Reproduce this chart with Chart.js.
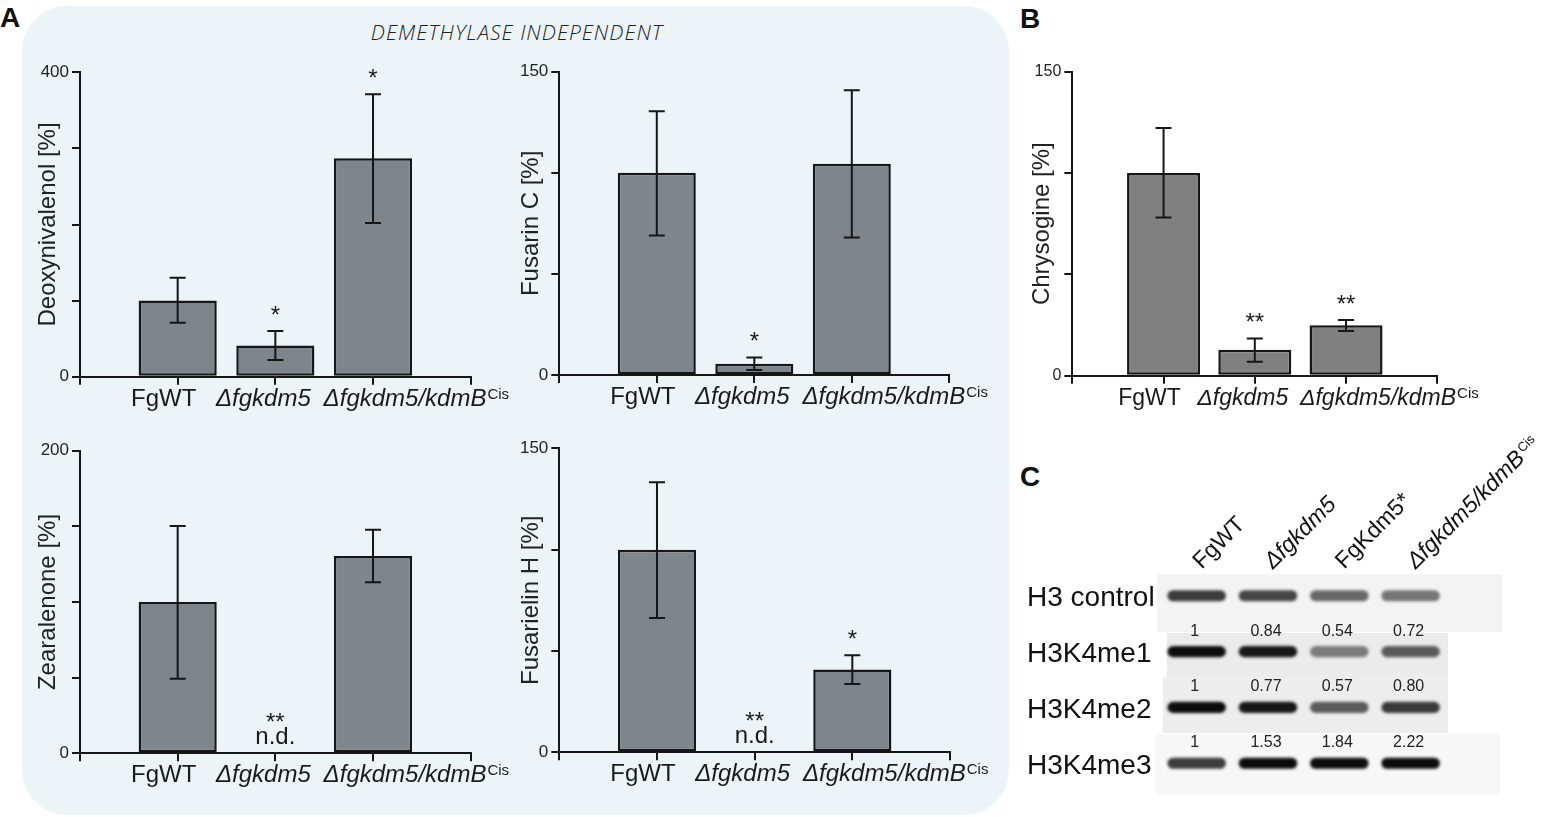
<!DOCTYPE html>
<html>
<head>
<meta charset="utf-8">
<script src="https://cdn.jsdelivr.net/npm/chart.js@4.4.1/dist/chart.umd.min.js"></script>
<style>
  body { margin: 0; background: #fff; }
  #page { position: relative; width: 1559px; height: 817px; overflow: hidden; font-family: "Liberation Sans", Arial, sans-serif; }
  #panelA { position: absolute; left: 22px; top: 6px; width: 987px; height: 809px; border-radius: 45px; background: #edf4f8; }
  .letter { position: absolute; font-weight: bold; font-size: 28px; line-height: 28px; color: #111; }
  #subtitle { position: absolute; left: 222px; width: 590px; top: 20px; text-align: center; font-family: "Open Sans", sans-serif; font-style: italic; font-weight: 300; font-size: 21px; letter-spacing: 1px; line-height: 24px; color: #222; }
  .strip { position: absolute; }
  canvas { position: absolute; }
</style>
</head>
<body>
<div id="page">
  <div id="panelA"></div>
  <div class="letter" style="left:0px;top:4px">A</div>
  <div class="letter" style="left:1020px;top:5px">B</div>
  <div class="letter" style="left:1020px;top:463px">C</div>
  <div id="subtitle">DEMETHYLASE INDEPENDENT</div>
  <div class="strip" style="left:1157px;top:574px;width:345px;height:58px;background:#f3f3f3"></div>
  <div class="strip" style="left:1167px;top:633px;width:281px;height:44px;background:#ebebeb"></div>
  <div class="strip" style="left:1163px;top:677px;width:285px;height:56px;background:#ededed"></div>
  <div class="strip" style="left:1155px;top:734px;width:345px;height:60px;background:#f7f7f7"></div>
  <canvas id="don"></canvas>
  <canvas id="fusc"></canvas>
  <canvas id="zea"></canvas>
  <canvas id="fush"></canvas>
  <canvas id="chrys"></canvas>
  <canvas id="blot"></canvas>
</div>
<script>
// strains on the x axis of every bar chart
const strains = ['FgWT', 'Δfgkdm5', 'Δfgkdm5/kdmB'];
const strainSup = ['', '', 'Cis'];

// mean, lower and upper error bar ends (% of wild type)
const donMean = [100, 41, 287];
const donLo = [71, 22, 202];
const donHi = [130, 60, 371];
const donSig = ['', '*', '*'];

const fuscMean = [100, 5.6, 104.5];
const fuscLo = [69, 2.5, 68];
const fuscHi = [130.4, 8.7, 140.8];
const fuscSig = ['', '*', ''];

const zeaMean = [100, 0, 130.4];
const zeaLo = [49.3, null, 113];
const zeaHi = [150.2, null, 147.8];
const zeaSig = ['', '**', ''];
const zeaNote = ['', 'n.d.', ''];

const fushMean = [100, 0, 40.9];
const fushLo = [66.3, null, 33.7];
const fushHi = [133.2, null, 47.9];
const fushSig = ['', '**', '*'];
const fushNote = ['', 'n.d.', ''];

const chrysMean = [100, 12.8, 24.9];
const chrysLo = [78.1, 6.9, 22];
const chrysHi = [122.2, 18.4, 27.5];
const chrysSig = ['', '**', '**'];

// western blot (panel C)
const lanes = ['FgWT', 'Δfgkdm5', 'FgKdm5*', 'Δfgkdm5/kdmB'];
const laneSup = ['', '', '', 'Cis'];
const marks = ['H3 control', 'H3K4me1', 'H3K4me2', 'H3K4me3'];
const bandH3 = [0.80, 0.75, 0.60, 0.55];
const bandMe1 = [1.00, 0.95, 0.50, 0.65];
const bandMe2 = [1.00, 0.95, 0.65, 0.80];
const bandMe3 = [0.80, 1.00, 1.00, 1.00];
const quantMe1 = [1, 0.84, 0.54, 0.72];
const quantMe2 = [1, 0.77, 0.57, 0.80];
const quantMe3 = [1, 1.53, 1.84, 2.22];

const FAM = '"Liberation Sans", Arial, sans-serif';
const INK = '#161616';

function place(cv, area, yw) {
  const L = Math.round(area.l - yw), T = Math.round(area.t - 40);
  const W = Math.round(area.r + 60) - L, H = Math.round(area.b + 50) - T;
  cv.width = W; cv.height = H;
  cv.style.left = L + 'px'; cv.style.top = T + 'px';
  return { yw: area.l - L, top: area.t - T, right: L + W - area.r, xh: T + H - area.b };
}

function barChart(id, area, s) {
  const cv = document.getElementById(id);
  const g = place(cv, area, s.yw);
  const annot = {
    id: 'annot',
    afterDraw(chart) {
      const { ctx, scales: { x, y } } = chart;
      ctx.save();
      ctx.strokeStyle = INK; ctx.fillStyle = '#1a1a1a';
      ctx.lineWidth = 2;
      s.mean.forEach((m, i) => {
        const px = x.getPixelForValue(i + 1);
        let top = y.getPixelForValue(m);
        if (s.lo[i] != null) {
          const yt = y.getPixelForValue(s.hi[i]), yb = y.getPixelForValue(s.lo[i]);
          ctx.beginPath();
          ctx.moveTo(px, yt); ctx.lineTo(px, yb);
          ctx.moveTo(px - 8, yt); ctx.lineTo(px + 8, yt);
          ctx.moveTo(px - 8, yb); ctx.lineTo(px + 8, yb);
          ctx.stroke();
          top = yt;
        }
        ctx.textAlign = 'center'; ctx.textBaseline = 'alphabetic';
        if (s.note && s.note[i]) {
          ctx.font = '24px ' + FAM;
          ctx.fillText(s.note[i], px, top - 9);
          ctx.fillText(s.sig[i], px, top - 23);
        } else if (s.sig[i]) {
          ctx.font = '24px ' + FAM;
          ctx.fillText(s.sig[i], px, top - 8);
        }
      });
      // category labels with italics and superscript
      const base = y.getPixelForValue(0) + 29;
      const shift = [-14, -12, 32];
      ctx.textAlign = 'left';
      strains.forEach((lab, i) => {
        ctx.font = (lab.startsWith('Δ') ? 'italic ' : '') + s.xf + 'px ' + FAM;
        const w = ctx.measureText(lab).width;
        const cx = x.getPixelForValue(i + 1) + shift[i];
        ctx.fillText(lab, cx - w / 2, base);
        if (strainSup[i]) {
          ctx.font = '15px ' + FAM;
          ctx.fillText(strainSup[i], cx + w / 2 + 1, base - 7);
        }
      });
      ctx.restore();
    }
  };
  const axisGrid = { drawOnChartArea: false, color: INK, lineWidth: 2, tickLength: 8, offset: false };
  const axisBorder = { color: INK, width: 2 };
  return new Chart(cv, {
    type: 'bar',
    data: {
      datasets: [{
        data: s.mean.map((v, i) => ({ x: i + 1, y: v })),
        backgroundColor: s.fill,
        borderColor: INK,
        borderWidth: 2.5,
        borderSkipped: false,
        barPercentage: 0.8,
        categoryPercentage: 1
      }]
    },
    options: {
      responsive: false,
      animation: false,
      layout: { padding: { top: g.top, right: g.right, left: 0, bottom: 0 } },
      plugins: { legend: { display: false }, tooltip: { enabled: false } },
      scales: {
        x: {
          type: 'linear', min: 0, max: 4, offset: false,
          afterFit: sc => { sc.height = g.xh; },
          ticks: { stepSize: 1, callback: () => '' },
          grid: axisGrid, border: axisBorder
        },
        y: {
          min: 0, max: s.max,
          afterFit: sc => { sc.width = g.yw; },
          ticks: {
            stepSize: s.step, padding: 3, color: '#222',
            font: { size: s.tf, family: FAM },
            callback: v => (v === 0 || v === s.max) ? v : ''
          },
          grid: axisGrid, border: axisBorder,
          title: { display: true, text: s.title, color: '#222', padding: 4, font: { size: 24, family: FAM } }
        }
      }
    },
    plugins: [annot]
  });
}

const fillA = '#7e858b';
barChart('don', { l: 80, r: 470.7, t: 72.3, b: 376.7 },
  { yw: 50.4, max: 400, step: 100, title: 'Deoxynivalenol [%]', mean: donMean, lo: donLo, hi: donHi, sig: donSig, fill: fillA, tf: 17, xf: 24 });
barChart('fusc', { l: 559.3, r: 949.3, t: 71.7, b: 375 },
  { yw: 46.4, max: 150, step: 50, title: 'Fusarin C [%]', mean: fuscMean, lo: fuscLo, hi: fuscHi, sig: fuscSig, fill: fillA, tf: 17, xf: 24 });
barChart('zea', { l: 80, r: 470.7, t: 450.7, b: 753.3 },
  { yw: 50.4, max: 200, step: 50, title: 'Zearalenone [%]', mean: zeaMean, lo: zeaLo, hi: zeaHi, sig: zeaSig, note: zeaNote, fill: fillA, tf: 17, xf: 24 });
barChart('fush', { l: 559.3, r: 950, t: 448.3, b: 752.3 },
  { yw: 46.4, max: 150, step: 50, title: 'Fusarielin H [%]', mean: fushMean, lo: fushLo, hi: fushHi, sig: fushSig, note: fushNote, fill: fillA, tf: 17, xf: 24 });
barChart('chrys', { l: 1072.3, r: 1437.3, t: 71.7, b: 375.7 },
  { yw: 48.4, max: 150, step: 50, title: 'Chrysogine [%]', mean: chrysMean, lo: chrysLo, hi: chrysHi, sig: chrysSig, fill: '#808080', tf: 16, xf: 23 });

// panel C: blot bands as floating bars, one dataset per antibody row
const bands = [bandH3, bandMe1, bandMe2, bandMe3];
const quants = [null, quantMe1, quantMe2, quantMe3];
const blotCv = document.getElementById('blot');
blotCv.width = 559; blotCv.height = 387;
blotCv.style.left = '1000px'; blotCv.style.top = '430px';

const blotText = {
  id: 'blotText',
  beforeDatasetsDraw(chart) { chart.ctx.save(); chart.ctx.filter = 'blur(1.6px)'; },
  afterDatasetsDraw(chart) { chart.ctx.restore(); },
  afterDraw(chart) {
    const { ctx, chartArea, scales: { x, y } } = chart;
    ctx.save();
    ctx.fillStyle = '#111';
    ctx.textBaseline = 'alphabetic';
    ctx.textAlign = 'left';
    ctx.font = '28px ' + FAM;
    marks.forEach((m, r) => ctx.fillText(m, chartArea.left - 134, y.getPixelForValue(r) + 10.5));
    ctx.textAlign = 'center';
    ctx.font = '16px ' + FAM;
    ctx.fillStyle = '#222';
    quants.forEach((q, r) => {
      if (!q) return;
      q.forEach((v, i) => ctx.fillText(v === 1 ? '1' : v.toFixed(2), x.getPixelForValue(i) - 2, y.getPixelForValue(r) - 16));
    });
    ctx.fillStyle = '#111';
    ctx.textAlign = 'left';
    lanes.forEach((lab, i) => {
      ctx.save();
      ctx.translate(x.getPixelForValue(i) + 5, chartArea.top + 2);
      ctx.rotate(-Math.PI / 4);
      ctx.font = (lab.startsWith('Δ') ? 'italic ' : '') + '23px ' + FAM;
      ctx.fillText(lab, 0, 0);
      if (laneSup[i]) {
        const w = ctx.measureText(lab).width;
        ctx.font = '13px ' + FAM;
        ctx.fillText(laneSup[i], w + 2, -7);
      }
      ctx.restore();
    });
    ctx.restore();
  }
};

new Chart(blotCv, {
  type: 'bar',
  data: {
    labels: lanes,
    datasets: bands.map((b, r) => ({
      data: lanes.map(() => [r - 0.1, r + 0.1]),
      backgroundColor: b.map(a => 'rgba(12,12,12,' + a + ')'),
      borderWidth: 0,
      borderRadius: 6,
      borderSkipped: false,
      grouped: false,
      barPercentage: 0.82,
      categoryPercentage: 1
    }))
  },
  options: {
    responsive: false,
    animation: false,
    layout: { padding: { left: 161, right: 112.7, top: 137.8, bottom: 25.8 } },
    plugins: { legend: { display: false }, tooltip: { enabled: false } },
    scales: {
      x: { display: false },
      y: { display: false, reverse: true, min: -0.5, max: 3.5 }
    }
  },
  plugins: [blotText]
});
</script>
</body>
</html>
